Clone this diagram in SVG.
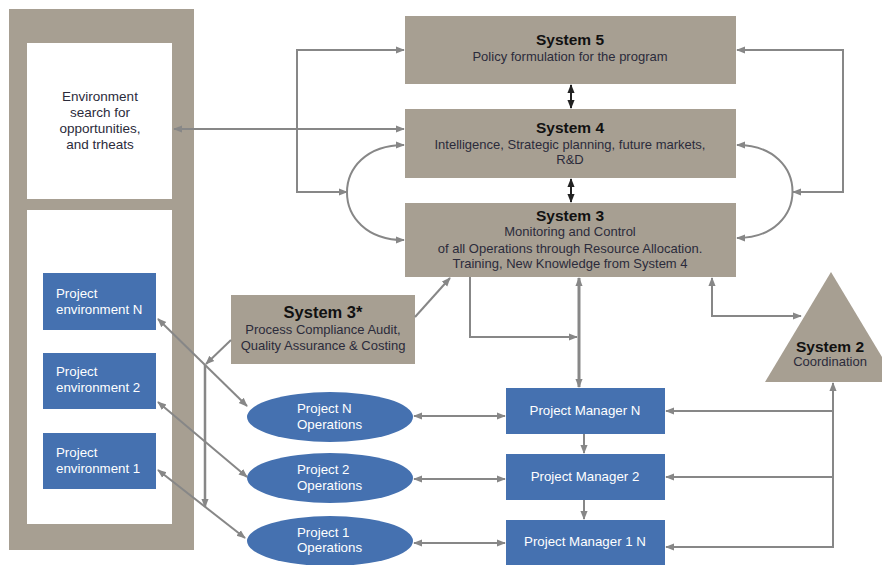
<svg xmlns="http://www.w3.org/2000/svg" width="882" height="565" viewBox="0 0 882 565">
<defs>
<marker id="ah" viewBox="0 0 10 10" refX="9" refY="5" markerWidth="9" markerHeight="9" markerUnits="userSpaceOnUse" orient="auto-start-reverse"><path d="M0,1 L10,5 L0,9 z" fill="#878787"/></marker>
<marker id="ahk" viewBox="0 0 10 10" refX="9" refY="5" markerWidth="9" markerHeight="9" markerUnits="userSpaceOnUse" orient="auto-start-reverse"><path d="M0,1 L10,5 L0,9 z" fill="#222"/></marker>
<style>
.tan{fill:#a79f92}
.blue{fill:#4571b0}
.t{font-family:"Liberation Sans",Arial,sans-serif;font-size:13px;fill:#2b2b3b;text-anchor:middle}
.b{font-weight:bold;font-size:15.5px;fill:#111}
.w{font-family:"Liberation Sans",Arial,sans-serif;font-size:13.3px;fill:#fff}
.c{fill:none;stroke:#878787;stroke-width:2}
</style>
</defs>
<rect width="882" height="565" fill="#fff"/>
<g id="frame">
<rect x="9" y="9" width="185" height="541" class="tan"/>
<rect x="27" y="43" width="145" height="156" fill="#fff"/>
<rect x="27" y="210" width="145" height="314" fill="#fff"/>
</g>
<g id="env">
<text class="t" style="font-size:13.5px"><tspan x="100" y="101">Environment</tspan><tspan x="100" y="117">search for</tspan><tspan x="100" y="133">opportunities,</tspan><tspan x="100" y="149">and trheats</tspan></text>
</g>
<g id="penvN"><rect x="43" y="273" width="113" height="57" class="blue"/><text class="w"><tspan x="56" y="298">Project</tspan><tspan x="56" y="314">environment N</tspan></text></g>
<g id="penv2"><rect x="43" y="353" width="113" height="56" class="blue"/><text class="w"><tspan x="56" y="376">Project</tspan><tspan x="56" y="392">environment 2</tspan></text></g>
<g id="penv1"><rect x="43" y="433" width="113" height="56" class="blue"/><text class="w"><tspan x="56" y="457">Project</tspan><tspan x="56" y="473">environment 1</tspan></text></g>
<g id="s5"><rect x="405" y="16" width="331" height="68" class="tan"/><text class="t"><tspan x="570" y="45" class="b">System 5</tspan><tspan x="570" y="61">Policy formulation for the program</tspan></text></g>
<g id="s4"><rect x="405" y="109" width="331" height="69" class="tan"/><text class="t"><tspan x="570" y="133" class="b">System 4</tspan><tspan x="570" y="149">Intelligence, Strategic planning, future markets,</tspan><tspan x="570" y="164">R&amp;D</tspan></text></g>
<g id="s3"><rect x="405" y="203" width="331" height="74" class="tan"/><text class="t"><tspan x="570" y="221" class="b">System 3</tspan><tspan x="570" y="236">Monitoring and Control</tspan><tspan x="570" y="253">of all Operations through Resource Allocation.</tspan><tspan x="570" y="268">Training, New Knowledge from System 4</tspan></text></g>
<g id="s3star"><rect x="231" y="295" width="184" height="69" class="tan"/><text class="t"><tspan x="323" y="318" class="b" style="font-size:16.5px">System 3*</tspan><tspan x="323" y="334">Process Compliance Audit,</tspan><tspan x="323" y="350">Quality Assurance &amp; Costing</tspan></text></g>
<g id="s2"><polygon points="831,272 897,382 765,382" class="tan"/><text class="t"><tspan x="830" y="352" class="b">System 2</tspan><tspan x="830" y="366">Coordination</tspan></text></g>
<g id="opN"><ellipse cx="330" cy="417" rx="83" ry="25" class="blue"/><text class="w"><tspan x="297" y="413">Project N</tspan><tspan x="297" y="429">Operations</tspan></text></g>
<g id="op2"><ellipse cx="330" cy="478" rx="83" ry="25" class="blue"/><text class="w"><tspan x="297" y="474">Project 2</tspan><tspan x="297" y="490">Operations</tspan></text></g>
<g id="op1"><ellipse cx="330" cy="541" rx="83" ry="25" class="blue"/><text class="w"><tspan x="297" y="537">Project 1</tspan><tspan x="297" y="552">Operations</tspan></text></g>
<g id="pmN"><rect x="506" y="388" width="159" height="46" class="blue"/><text class="w" text-anchor="middle" x="585" y="415">Project Manager N</text></g>
<g id="pm2"><rect x="506" y="454" width="159" height="46" class="blue"/><text class="w" text-anchor="middle" x="585" y="481">Project Manager 2</text></g>
<g id="pm1"><rect x="506" y="520" width="159" height="46" class="blue"/><text class="w" text-anchor="middle" x="585" y="546">Project Manager 1 N</text></g>
<g id="connectors">
<path class="c" d="M571,85 V108" style="stroke:#222" marker-start="url(#ahk)" marker-end="url(#ahk)"/>
<path class="c" d="M571,179 V202" style="stroke:#222" marker-start="url(#ahk)" marker-end="url(#ahk)"/>
<path class="c" d="M404,50 H297 V192 H347" marker-start="url(#ah)" marker-end="url(#ah)"/>
<path class="c" d="M737,50 H843 V192 H793" marker-start="url(#ah)" marker-end="url(#ah)"/>
<path class="c" d="M174,129 H404" marker-start="url(#ah)" marker-end="url(#ah)"/>
<path class="c" d="M404,145 C328,145 328,240 404,240" marker-start="url(#ah)" marker-end="url(#ah)"/>
<path class="c" d="M737,145 C811,145 811,238 737,238" marker-start="url(#ah)" marker-end="url(#ah)"/>
<path class="c" d="M415,317 L450,278" marker-end="url(#ah)"/>
<path class="c" d="M231,340 L206,364" marker-end="url(#ah)"/>
<path class="c" d="M205,365 V507" style="stroke-width:2.5" marker-end="url(#ah)"/>
<path class="c" d="M158,319 L247,406" marker-start="url(#ah)" marker-end="url(#ah)"/>
<path class="c" d="M158,402 L247,477" marker-start="url(#ah)" marker-end="url(#ah)"/>
<path class="c" d="M158,470 L245,538" marker-start="url(#ah)" marker-end="url(#ah)"/>
<path class="c" d="M414,416 H505" marker-start="url(#ah)" marker-end="url(#ah)"/>
<path class="c" d="M414,479 H505" marker-start="url(#ah)" marker-end="url(#ah)"/>
<path class="c" d="M414,543 H505" marker-start="url(#ah)" marker-end="url(#ah)"/>
<path class="c" d="M579,278 V387" style="stroke-width:3" marker-start="url(#ah)" marker-end="url(#ah)"/>
<path class="c" d="M470,277 V337 H577" marker-end="url(#ah)"/>
<path class="c" d="M584,434 V453" marker-end="url(#ah)"/>
<path class="c" d="M584,500 V519" marker-end="url(#ah)"/>
<path class="c" d="M712,278 V316 H801" marker-start="url(#ah)" marker-end="url(#ah)"/>
<path class="c" d="M833,383 V547" marker-start="url(#ah)"/>
<path class="c" d="M833,411 H666" marker-end="url(#ah)"/>
<path class="c" d="M833,477 H666" marker-end="url(#ah)"/>
<path class="c" d="M834,547 H666" marker-end="url(#ah)"/>
</g>
</svg>
